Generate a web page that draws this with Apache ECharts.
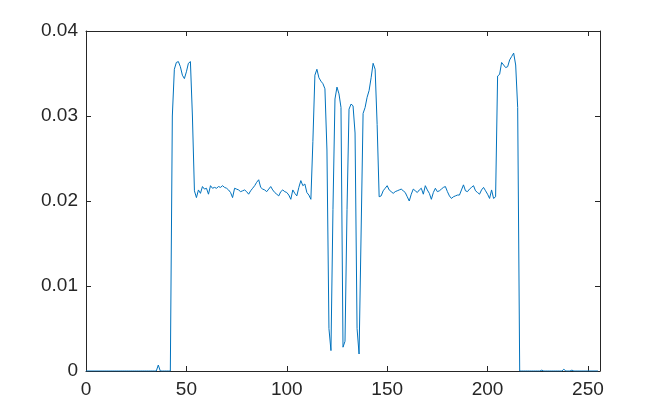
<!DOCTYPE html>
<html>
<head>
<meta charset="utf-8">
<script src="https://cdn.jsdelivr.net/npm/echarts@6/dist/echarts.min.js"></script>
<style>
  html, body { margin: 0; padding: 0; background: #fff; }
  #main { width: 663px; height: 417px; }
</style>
</head>
<body>
<div id="main"></div>
<script>
// x ticks / y ticks
var xTicks = [0, 50, 100, 150, 200, 250];
var yTicks = [0, 0.01, 0.02, 0.03, 0.04];

// values for bins 0..255
var zerosA = [0, 0, 0, 0, 0, 0, 0, 0, 0, 0, 0, 0, 0, 0, 0, 0, 0, 0, 0, 0,
  0, 0, 0, 0, 0, 0, 0, 0, 0, 0, 0, 0, 0, 0, 0, 0];               // 0-35
var leftPart = [0.0007, 0, 0, 0, 0, 0, 0,                          // 36-42
  0.0300, 0.0355, 0.0363, 0.0364, 0.0358, 0.0348, 0.0344, 0.0352,  // 43-50
  0.0362, 0.0364, 0.0300, 0.0212, 0.0204];                         // 51-55
var plateau1 = [0.0213, 0.0209, 0.0217, 0.0214, 0.0215, 0.0208, 0.0218, 0.0215, 0.0216, 0.0215, // 56-65
  0.0217, 0.0216, 0.0218, 0.0216, 0.0215, 0.0213, 0.0210, 0.0204, 0.0215, 0.0214,               // 66-75
  0.0213, 0.0211, 0.0212, 0.0213, 0.0211, 0.0208, 0.0212, 0.0215, 0.0218, 0.0222,               // 76-85
  0.0225, 0.0216, 0.0214, 0.0213, 0.0211, 0.0214, 0.0217, 0.0213, 0.0210, 0.0208,               // 86-95
  0.0206, 0.0211, 0.0213, 0.0211, 0.0210, 0.0207, 0.0202, 0.0213, 0.0209, 0.0206,               // 96-105
  0.0216, 0.0224, 0.0218, 0.0220, 0.0210, 0.0207, 0.0202];                                      // 106-112
var middle = [0.0270, 0.0348, 0.0355, 0.0345, 0.0341, 0.0338, 0.0332, 0.0260, 0.0050, 0.0024, // 113-122
  0.0190, 0.0320, 0.0334, 0.0326, 0.0310, 0.0028, 0.0035, 0.0190, 0.0308, 0.0314,             // 123-132
  0.0312, 0.0280, 0.0050, 0.0020, 0.0160, 0.0303, 0.0310, 0.0322, 0.0330, 0.0345,             // 133-142
  0.0362, 0.0355, 0.0290, 0.0205];                                                            // 143-146
var plateau2 = [0.0206, 0.0212, 0.0215, 0.0218, 0.0213, 0.0211, 0.0209, 0.0211, 0.0212, 0.0213, // 147-156
  0.0214, 0.0212, 0.0210, 0.0205, 0.0200, 0.0208, 0.0214, 0.0212, 0.0210, 0.0213,              // 157-166
  0.0215, 0.0208, 0.0218, 0.0213, 0.0209, 0.0202, 0.0210, 0.0215, 0.0211, 0.0212,              // 167-176
  0.0214, 0.0216, 0.0217, 0.0211, 0.0206, 0.0203, 0.0205, 0.0206, 0.0207, 0.0207,              // 177-186
  0.0213, 0.0219, 0.0212, 0.0211, 0.0214, 0.0216, 0.0218, 0.0212, 0.0210, 0.0208,              // 187-196
  0.0213, 0.0216, 0.0212, 0.0208, 0.0203, 0.0213, 0.0203, 0.0205];                             // 197-204
var rightPart = [0.0347, 0.0349, 0.0363, 0.0360, 0.0357, 0.0358, 0.0366, 0.0370, 0.0374, 0.0360, // 205-214
  0.0310, 0];                                                                                    // 215-216
var zerosB = [0, 0, 0, 0, 0, 0, 0, 0, 0, 0, 0.0001, 0, 0, 0, 0, 0, 0, 0, 0, 0,                    // 217-236
  0, 0.0002, 0, 0, 0, 0.0001, 0, 0, 0, 0, 0, 0, 0, 0, 0, 0, 0, 0, 0];                             // 237-255

var values = [].concat(zerosA, leftPart, plateau1, middle, plateau2, rightPart, zerosB);
var seriesData = values.map(function (v, i) { return [i, v]; });

var axisColor = '#262626';
var myChart = echarts.init(document.getElementById('main'));

// one axis setup, reused for the box sides
function side(extra) {
    var a = {
        type: 'value',
        axisLine: { show: true, onZero: false, lineStyle: { color: axisColor, width: 1 } },
        axisTick: { show: true, inside: true, length: 5, lineStyle: { color: axisColor } },
        axisLabel: { show: false },
        splitLine: { show: false }
    };
    for (var k in extra) a[k] = extra[k];
    return a;
}

var labelStyle = { color: axisColor, fontFamily: 'Liberation Sans, Arial', fontSize: 19 };

var option = {
    backgroundColor: '#ffffff',
    animation: false,
    grid: { left: 86, top: 31, width: 514, height: 340 },
    xAxis: [
        side({ min: 0, max: 256, interval: 50, position: 'bottom',
            axisLabel: Object.assign({ show: true, margin: 9, showMaxLabel: false,
                formatter: function (v) { return xTicks.indexOf(v) >= 0 ? String(v) : ''; } }, labelStyle) }),
        side({ min: 0, max: 256, interval: 50, position: 'top' })
    ],
    yAxis: [
        side({ min: 0, max: 0.04, interval: 0.01, position: 'left',
            axisLabel: Object.assign({ show: true, margin: 8,
                formatter: function (v) { return yTicks.indexOf(v) >= 0 ? String(v) : ''; } }, labelStyle) }),
        side({ min: 0, max: 0.04, interval: 0.01, position: 'right' })
    ],
    series: [{
        type: 'line',
        xAxisIndex: 0,
        yAxisIndex: 0,
        data: seriesData,
        showSymbol: false,
        lineStyle: { color: '#0072BD', width: 1 },
        itemStyle: { color: '#0072BD' }
    }]
};

myChart.setOption(option);
</script>
</body>
</html>
